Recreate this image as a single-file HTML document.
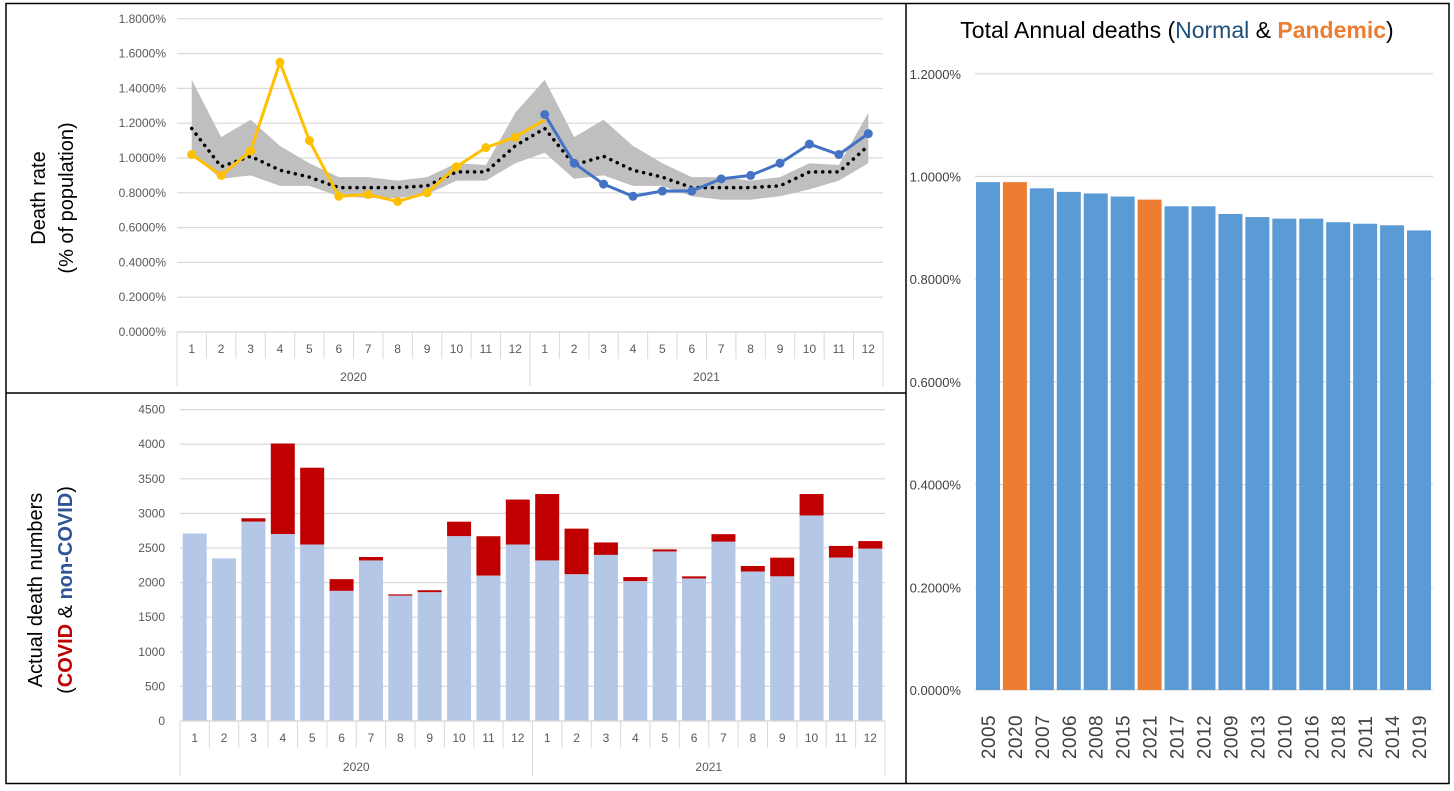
<!DOCTYPE html>
<html><head><meta charset="utf-8"><style>
html,body{margin:0;padding:0;background:#fff}
svg{display:block;font-family:"Liberation Sans",sans-serif}
</style></head><body>
<svg id="s" width="1454" height="791" xmlns="http://www.w3.org/2000/svg">
<rect x="0" y="0" width="1454" height="791" fill="#fff"/>
<rect x="6" y="3.5" width="1443" height="780" fill="none" stroke="#000" stroke-width="1.5"/>
<line x1="906" y1="3" x2="906" y2="784" stroke="#000" stroke-width="1.5"/>
<line x1="6" y1="393" x2="906" y2="393" stroke="#000" stroke-width="1.5"/>
<g id="topChart"></g>
<g id="botChart"></g>
<g id="rightChart"></g>
<text transform="translate(45,198) rotate(-90)" text-anchor="middle" font-size="20" fill="#000">Death rate</text>
<text transform="translate(73,198) rotate(-90)" text-anchor="middle" font-size="20" fill="#000">(% of population)</text>
<text transform="translate(42,590) rotate(-90)" text-anchor="middle" font-size="20" fill="#000">Actual death numbers</text>
<text transform="translate(72,590) rotate(-90)" text-anchor="middle" font-size="20" fill="#000">(<tspan fill="#c00000" font-weight="bold">COVID</tspan> &amp; <tspan fill="#2f5597" font-weight="bold">non-COVID</tspan>)</text>
<text x="1177" y="38" text-anchor="middle" font-size="23" fill="#000">Total Annual deaths (<tspan fill="#1f4e79">Normal</tspan> &amp; <tspan fill="#ed7d31" font-weight="bold">Pandemic</tspan>)</text>
</svg>
<script>
const months=[1,2,3,4,5,6,7,8,9,10,11,12,1,2,3,4,5,6,7,8,9,10,11,12];
const years=["2020","2021"];
const rate2020=[1.02,0.90,1.04,1.55,1.10,0.78,0.79,0.75,0.80,0.95,1.06,1.12,1.22];
const rate2021=[1.25,0.97,0.85,0.78,0.81,0.81,0.88,0.90,0.97,1.08,1.02,1.14];
const avgRate=[1.17,0.95,1.01,0.93,0.89,0.83,0.83,0.83,0.84,0.92,0.92,1.07,1.17,0.96,1.01,0.93,0.89,0.83,0.83,0.83,0.84,0.92,0.92,1.07];
const bandHigh=[1.45,1.12,1.22,1.07,0.97,0.89,0.89,0.87,0.89,0.97,0.96,1.26,1.45,1.12,1.22,1.07,0.97,0.89,0.89,0.87,0.89,0.97,0.96,1.26];
const bandLow=[1.02,0.88,0.90,0.84,0.84,0.78,0.77,0.77,0.79,0.87,0.87,0.97,1.03,0.88,0.90,0.84,0.84,0.78,0.76,0.76,0.78,0.82,0.87,0.97];
const topTicks=[0,0.2,0.4,0.6,0.8,1.0,1.2,1.4,1.6,1.8];
const nonCovid=[2710,2350,2880,2700,2550,1880,2320,1810,1860,2670,2100,2550,2320,2120,2400,2020,2450,2060,2590,2160,2090,2970,2360,2490];
const totalDeaths=[2710,2350,2930,4010,3660,2050,2370,1830,1890,2880,2670,3200,3280,2780,2580,2080,2480,2090,2700,2240,2360,3280,2530,2600];
const botTicks=[0,500,1000,1500,2000,2500,3000,3500,4000,4500];
const annualYears=["2005","2020","2007","2006","2008","2015","2021","2017","2012","2009","2013","2010","2016","2018","2011","2014","2019"];
const annualRate=[0.989,0.989,0.977,0.970,0.967,0.961,0.955,0.942,0.942,0.927,0.921,0.918,0.918,0.911,0.908,0.905,0.895];
const pandemicYears=["2020","2021"];
const rightTicks=[0,0.2,0.4,0.6,0.8,1.0,1.2];

const NS="http://www.w3.org/2000/svg";
function mk(p,t,a,txt){const e=document.createElementNS(NS,t);for(const k in a)e.setAttribute(k,a[k]);if(txt!==undefined)e.textContent=txt;p.appendChild(e);return e;}

// ---------- TOP ----------
const topG=document.getElementById('topChart');
const tL=177,tR=883,t0=332,tScale=34.8/0.2;
const tx=i=>tL+(tR-tL)/24*(i+0.5);
const ty=v=>t0-v*tScale;
topTicks.forEach(v=>{
  const g=mk(topG,'line',{x1:tL,x2:tR,y1:ty(v),y2:ty(v),stroke:'#d9d9d9','stroke-width':1.2});
  
  
  const t=mk(topG,'text',{x:166,y:ty(v)+4,'text-anchor':'end','font-size':12,fill:'#595959'},v.toFixed(4)+'%');
  
  
});
const bp=bandHigh.map((v,i)=>tx(i)+','+ty(v)).join(' ')+' '+bandLow.map((v,i)=>tx(i)+','+ty(v)).reverse().join(' ');
const band=mk(topG,'polygon',{points:bp,fill:'#bfbfbf'});


const avg=mk(topG,'polyline',{points:avgRate.map((v,i)=>tx(i)+','+ty(v)).join(' '),fill:'none',stroke:'#000','stroke-width':3.5,'stroke-dasharray':'0.1 7','stroke-linecap':'round'});


function series(arr,off,col,name){
  const l=mk(topG,'polyline',{points:arr.map((v,i)=>tx(i+off)+','+ty(v)).join(' '),fill:'none',stroke:col,'stroke-width':3});
  
  
  arr.forEach((v,i)=>{
    if(name==='rate-2020'&&i===12)return;
    const c=mk(topG,'circle',{cx:tx(i+off),cy:ty(v),r:4.5,fill:col});
    
    
  });
}
series(rate2020,0,'#ffc000','rate-2020');
series(rate2021,12,'#4472c4','rate-2021');
function catAxis(g,L,R,y0,labY,yrY,bottom,pfx){
  const w=(R-L)/24;
  mk(g,'line',{x1:L,x2:R,y1:y0,y2:y0,stroke:'#d9d9d9','stroke-width':1.2});
  for(let i=0;i<=24;i++){
    const x=L+w*i;
    mk(g,'line',{x1:x,x2:x,y1:y0,y2:(i%12===0)?bottom:labY+10,stroke:'#d9d9d9','stroke-width':1});
  }
  months.forEach((m,i)=>{
    const t=mk(g,'text',{x:L+w*(i+0.5),y:labY+4,'text-anchor':'middle','font-size':12,fill:'#595959'},m);
    
    
  });
  years.forEach((yv,j)=>{
    const t=mk(g,'text',{x:L+w*(12*j+6),y:yrY+4,'text-anchor':'middle','font-size':12,fill:'#595959'},yv);
    
    
  });
}
catAxis(topG,tL,tR,332,349,377,386,'top');

// ---------- BOTTOM ----------
const botG=document.getElementById('botChart');
const bL=180,bR=885,b0=721,bScale=34.6/500;
const bw=(bR-bL)/24;
const bx=i=>bL+bw*(i+0.5);
const by=v=>b0-v*bScale;
botTicks.forEach(v=>{
  const g=mk(botG,'line',{x1:bL,x2:bR,y1:by(v),y2:by(v),stroke:'#d9d9d9','stroke-width':1.2});
  
  
  const t=mk(botG,'text',{x:165,y:by(v)+4,'text-anchor':'end','font-size':12,fill:'#595959'},v);
  
  
});
nonCovid.forEach((v,i)=>{
  const r=mk(botG,'rect',{x:bx(i)-12,y:by(totalDeaths[i]),width:24,height:by(v)-by(totalDeaths[i]),fill:'#c00000'});
  
  
  const b=mk(botG,'rect',{x:bx(i)-12,y:by(v),width:24,height:b0-by(v),fill:'#b4c7e7'});
  
  
});
catAxis(botG,bL,bR,721,738,767,776,'bottom');

// ---------- RIGHT ----------
const rG=document.getElementById('rightChart');
const rL=974.5,rR=1432.5,r0=690,rScale=102.7/0.2;
const rw=(rR-rL)/17;
const rx=i=>rL+rw*(i+0.5);
const ry=v=>r0-v*rScale;
rightTicks.forEach(v=>{
  const g=mk(rG,'line',{x1:975,x2:1433,y1:ry(v),y2:ry(v),stroke:'#d9d9d9','stroke-width':1.2});
  
  
  const t=mk(rG,'text',{x:961,y:ry(v)+5,'text-anchor':'end','font-size':13,fill:'#404040'},v.toFixed(4)+'%');
  
  
});
annualRate.forEach((v,i)=>{
  const pand=pandemicYears.includes(annualYears[i]);
  const b=mk(rG,'rect',{x:rx(i)-12,y:ry(v),width:24,height:r0-ry(v),fill:pand?'#ed7d31':'#5b9bd5'});
  
  
  const t=mk(rG,'text',{transform:`translate(${rx(i)+7},${737}) rotate(-90)`,'text-anchor':'middle','font-size':19,fill:'#404040','letter-spacing':'0.5'},annualYears[i]);
  
  
});
</script>
</body></html>
